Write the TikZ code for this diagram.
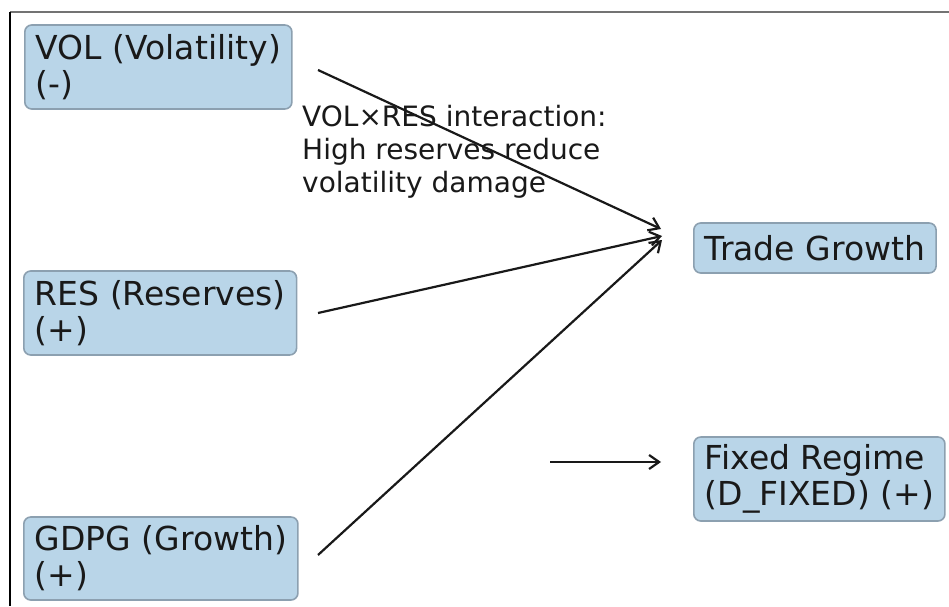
\documentclass[tikz,border=0pt]{standalone}
\usepackage{fontspec}
\setmainfont{DejaVu Sans}
\usetikzlibrary{arrows.meta}
\definecolor{boxfill}{RGB}{185,213,232}
\definecolor{boxline}{RGB}{140,160,176}
\definecolor{ink}{RGB}{25,25,25}
\tikzset{
  factor/.style={draw=boxline, line width=1.6pt, fill=boxfill, rounded corners=7pt,
    inner xsep=11pt, inner ysep=0pt, align=left, text=ink, anchor=west,
    font=\fontsize{33}{36}\selectfont},
  link/.style={draw=ink, line width=2.2pt, -{Straight Barb[length=10pt,width=14pt,line width=2.2pt]}},
  note/.style={inner sep=0pt, align=left, text=ink, anchor=north west,
    font=\fontsize{28}{33}\selectfont}
}
\begin{document}
\begin{tikzpicture}[x=1pt,y=1pt]
\useasboundingbox (0,0) rectangle (949,606);
\fill[white] (0,0) rectangle (949,606);
% frame edges
\draw[line width=1.6pt, color=black!55] (10,594) -- (949,594);
\draw[line width=1.2pt, black] (10,594) -- (10,0);

% factor boxes
\node[factor, minimum height=84pt] (vol) at (24,539) {VOL (Volatility)\\(-)};
\node[factor, minimum height=84pt] (res) at (23,293) {RES (Reserves)\\(+)};
\node[factor, minimum height=83pt] (gdpg) at (23,47.5) {GDPG (Growth)\\(+)};
\node[factor, minimum height=50pt] (trade) at (693,358) {Trade Growth};
\node[factor, minimum height=84pt] (fixed) at (693,127) {Fixed Regime\\(D\_FIXED) (+)};

% interaction note
\node[note] (inter) at (302,501) {VOL×RES interaction:\\High reserves reduce\\volatility damage};

% connector end points
\coordinate (volout) at (318,536);
\coordinate (resout) at (318,293);
\coordinate (gdpgout) at (318,51);
\coordinate (tgin1) at (661,377);
\coordinate (tgin2) at (662,370);
\coordinate (tgin3) at (662,366);
\coordinate (fxout) at (550,144);
\coordinate (fxin) at (661,144);

\draw[link] (volout) -- (tgin1);
\draw[link] (resout) -- (tgin2);
\draw[link] (gdpgout) -- (tgin3);
\draw[link] (fxout) -- (fxin);
\end{tikzpicture}
\end{document}
